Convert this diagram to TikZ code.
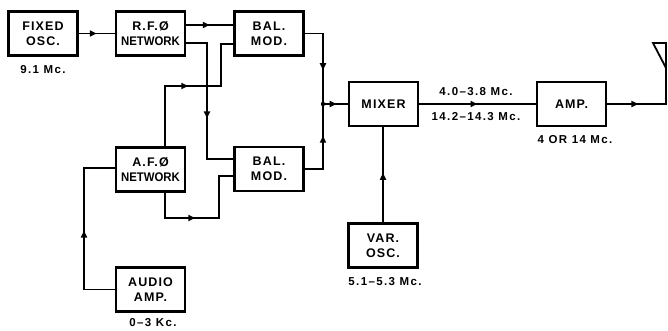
\documentclass[tikz,border=0pt]{standalone}
\usepackage{fontspec}
\usepackage{graphicx}
\setmainfont{Liberation Sans}
\newfontfamily\lbl[LetterSpace=9]{Liberation Sans}
\newfontfamily\lbltight[LetterSpace=0]{Liberation Sans}
\newfontfamily\lblsmall[LetterSpace=12]{Liberation Sans}
\newcommand\netw{\scalebox{0.91}[1]{\lbltight NETWORK}}
\usetikzlibrary{arrows.meta,decorations.markings}
\tikzset{
  blk/.style={draw, line width=2.1pt, minimum width=69pt, minimum height=44pt, inner sep=0pt,
    align=center, font=\lbl\bfseries\fontsize{12.5}{15}\selectfont},
  txt/.style={font=\lblsmall\bfseries\fontsize{11.5}{13}\selectfont, inner sep=0pt},
  wire/.style={line width=1.8pt},
  marr/.style={postaction={decorate}, decoration={markings,
    mark=at position #1 with {\arrow{Triangle[length=7pt,width=6pt]}}}},
  marr/.default=0.5
}
\begin{document}
\begin{tikzpicture}[x=1pt,y=-1pt]
\fill[white] (0,0) rectangle (668,330);
\useasboundingbox (0,0) rectangle (668,330);
% blocks
\node[blk] (fosc) at (43,33.5) {FIXED\\OSC.};
\node[blk] (rfn) at (150.5,33.5) {R.F.Ø\\\netw};
\node[blk] (bal1) at (269,33.5) {BAL.\\MOD.};
\node[blk] (bal2) at (269,169) {BAL.\\MOD.};
\node[blk] (afn) at (150.5,169.5) {A.F.Ø\\\netw};
\node[blk] (aamp) at (150.5,289.5) {AUDIO\\AMP.};
\node[blk] (mixer) at (383.5,104) {MIXER};
\node[blk] (amp) at (571.5,104) {AMP.};
\node[blk] (vosc) at (383,245.5) {VAR.\\OSC.};
% labels
\node[txt] (l1) at (43,70) {9.1 Mc.};
\node[txt] (l2) at (153,323) {0–3 Kc.};
\node[txt] (l3) at (476,92) {4.0–3.8 Mc.};
\node[txt] (l4) at (476,117) {14.2–14.3 Mc.};
\node[txt] (l5) at (575,140) {4 OR 14 Mc.};
\node[txt] (l6) at (385,282) {5.1–5.3 Mc.};
% coordinates
\coordinate (j) at (323,104);
\coordinate (ant) at (666,68);
% connectors
\draw[wire,marr=0.5] (fosc.east) -- (rfn.west);
\draw[wire,marr=0.5] (rfn.east |- 0,25) -- (bal1.west |- 0,25);
\draw[wire,marr=0.59] (rfn.east |- 0,43) -| (207,159) -- (bal2.west |- 0,159);
\draw[wire,marr=0.49] (165,0 |- afn.north) |- (221,86) |- (bal1.west |- 0,44);
\draw[wire,marr=0.62] (bal1.east) -| (j);
\draw[wire,marr=0.62] (bal2.east) -| (j);
\draw[wire,marr=0.55] (j) -- (mixer.west |- j);
\fill (j) circle (2.2pt);
\draw[wire,marr=0.41] (165,0 |- afn.south) |- (219,218) |- (bal2.west |- 0,176);
\draw[wire,marr=0.49] (aamp.west) -| (84,168) -- (afn.west |- 0,168);
\draw[wire,marr=0.52] (vosc.north) -- (vosc.north |- mixer.south);
\draw[wire,marr=0.5] (mixer.east) -- (amp.west |- mixer.east);
\draw[wire,marr=0.33] (amp.east) -| (ant);
% antenna
\draw[wire,line join=miter] (ant) -- (666,43) -- (653,43) -- cycle;
\end{tikzpicture}
\end{document}
